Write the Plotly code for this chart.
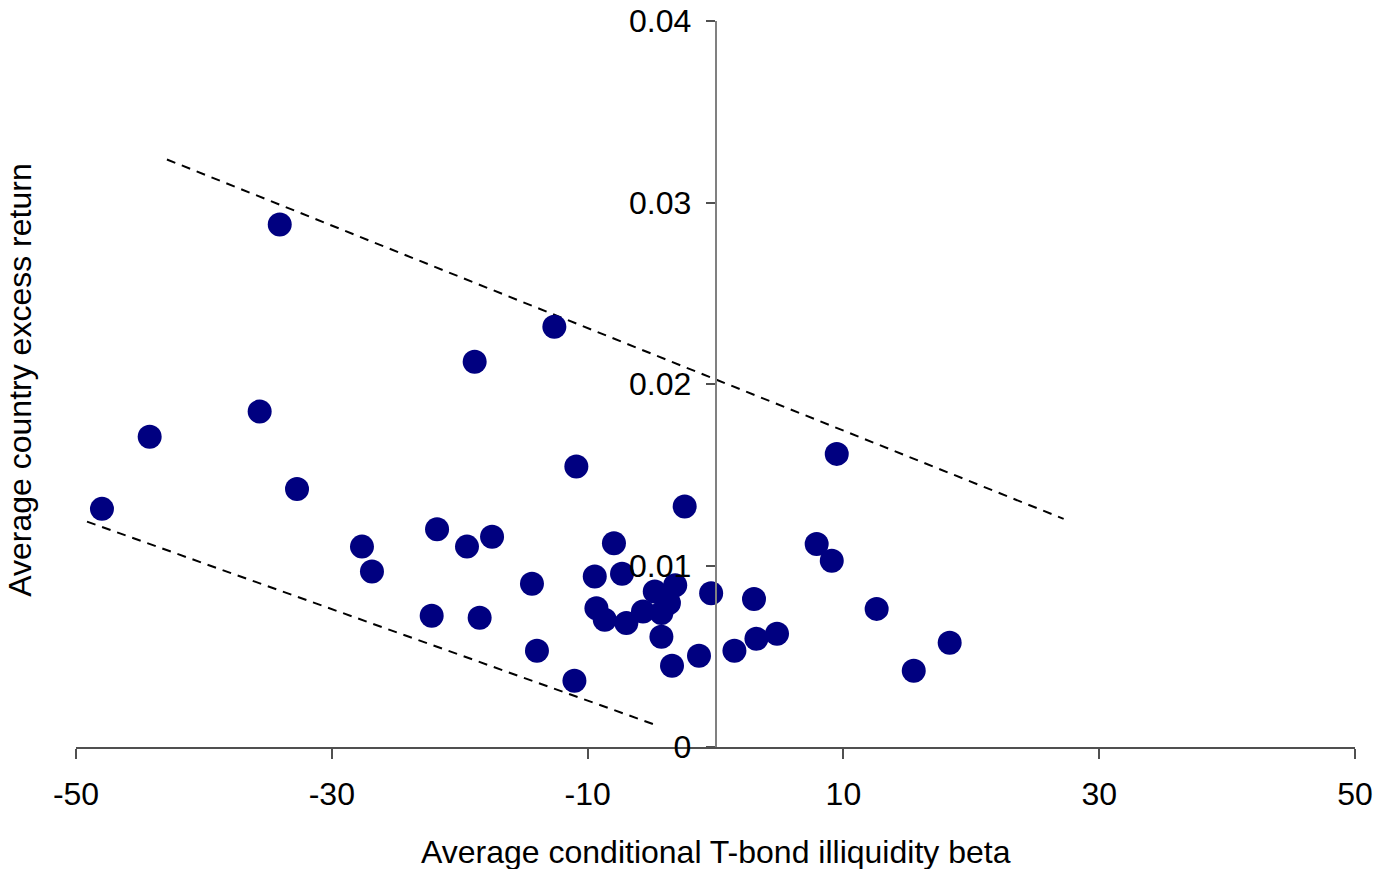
import plotly.graph_objects as go

# Scatter data: average conditional T-bond illiquidity beta vs average country excess return
beta = [-47.97, -44.24, -34.07, -35.64, -32.72, -27.64, -26.86, -22.19, -21.77, -19.43,
        -18.83, -18.44, -17.47, -14.35, -13.96, -12.60, -11.03, -10.88, -9.44, -9.31,
        -8.66, -7.94, -7.31, -6.97, -5.67, -4.75, -4.23, -4.23, -3.64, -3.40,
        -3.15, -2.41, -1.29, -0.34, 1.48, 3.01, 3.20, 4.81, 7.91, 9.09,
        9.48, 12.60, 15.50, 18.31]
excess_return = [0.01312, 0.01710, 0.02879, 0.01848, 0.01422, 0.01104, 0.00967, 0.00723, 0.01200, 0.01104,
                 0.02123, 0.00712, 0.01159, 0.00899, 0.00530, 0.02315, 0.00365, 0.01545, 0.00939, 0.00765,
                 0.00701, 0.01123, 0.00954, 0.00683, 0.00747, 0.00857, 0.00738, 0.00607, 0.00793, 0.00448,
                 0.00891, 0.01325, 0.00503, 0.00847, 0.00530, 0.00816, 0.00596, 0.00624, 0.01119, 0.01026,
                 0.01615, 0.00761, 0.00420, 0.00574]

# Dashed boundary lines
upper_x = [-42.89, 27.22]
upper_y = [0.03237, 0.01257]
lower_x = [-49.14, -4.62]
lower_y = [0.01242, 0.00120]

x_ticks = [-50, -30, -10, 10, 30, 50]
x_tick_text = ["-50", "-30", "-10", "10", "30", "50"]
y_ticks = [0, 0.01, 0.02, 0.03, 0.04]
y_tick_text = ["0", "0.01", "0.02", "0.03", "0.04"]

x_title = "Average conditional T-bond illiquidity beta"
y_title = "Average country excess return"

FONT = "Liberation Sans, Arial, sans-serif"

fig = go.Figure()
fig.add_trace(go.Scatter(x=upper_x, y=upper_y, mode="lines",
                         line=dict(color="black", width=2, dash="9px,7px"),
                         hoverinfo="skip", showlegend=False))
fig.add_trace(go.Scatter(x=lower_x, y=lower_y, mode="lines",
                         line=dict(color="black", width=2, dash="9px,7px"),
                         hoverinfo="skip", showlegend=False))
fig.add_trace(go.Scatter(x=beta, y=excess_return, mode="markers",
                         marker=dict(color="#000080", size=24, line=dict(width=0)),
                         showlegend=False))

fig.update_layout(
    width=1373, height=869,
    margin=dict(l=76, r=18, t=21, b=122, autoexpand=False),
    paper_bgcolor="white", plot_bgcolor="white",
    font=dict(family=FONT, size=32, color="black"),
    xaxis=dict(range=[-50, 50], tickvals=x_ticks, ticktext=x_tick_text,
               showgrid=False, zeroline=False, showline=True,
               linecolor="#505050", linewidth=1.5,
               ticks="outside", ticklen=10, tickwidth=1.5, tickcolor="#505050",
               ticklabelstandoff=8, ticklabeloverflow="allow",
               tickfont=dict(family=FONT, size=32, color="black"),
               automargin=False),
    yaxis=dict(range=[0, 0.04], tickvals=y_ticks, ticktext=y_tick_text,
               anchor="free", position=0.5,
               showgrid=False, zeroline=False, showline=True,
               linecolor="#808080", linewidth=1.5,
               ticks="outside", ticklen=9, tickwidth=1.5, tickcolor="#505050",
               ticklabelstandoff=8, ticklabeloverflow="allow",
               tickfont=dict(family=FONT, size=32, color="black"),
               automargin=False),
    annotations=[
        dict(text=x_title, xref="paper", yref="paper", x=0.5, y=-0.144,
             xanchor="center", yanchor="middle", showarrow=False,
             font=dict(family=FONT, size=32, color="black")),
        dict(text=y_title, xref="paper", yref="paper", x=-0.044, y=0.5055,
             xanchor="center", yanchor="middle", showarrow=False, textangle=-90,
             font=dict(family=FONT, size=32, color="black")),
    ],
)

fig.write_html("out.html",
               config={"displayModeBar": False},
               post_script="document.body.style.margin='0';document.body.style.overflow='hidden';")
